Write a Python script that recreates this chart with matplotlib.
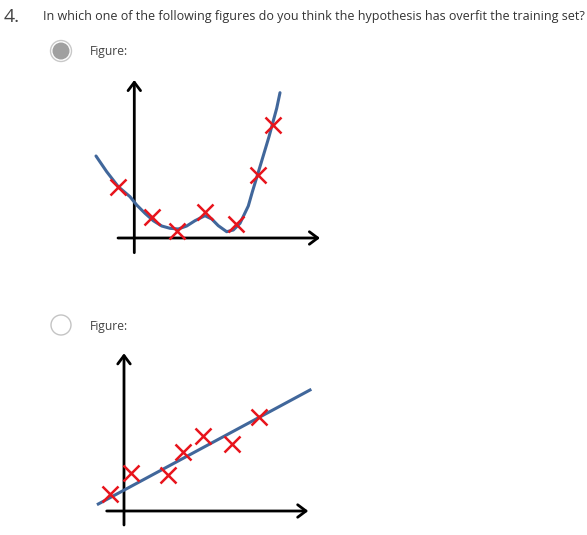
import matplotlib.pyplot as plt
from matplotlib.patches import Circle

W, H = 587, 535

# --- data (units ~ pixels, origin at axis crossing)
fig1_x = [-16, 17.4, 42.4, 70.7, 101.7, 123.4, 139]
fig1_y = [51, 21, 7, 26, 14, 63, 113]
curve_x = [-38.3, -27.6, -16, -4.3, 2.4, 10.7, 19, 27.4, 35.7, 44, 52.4,
           60.7, 70.7, 77.4, 84, 92.4, 99, 105.7, 114, 118, 126.7, 134.7,
           142.4, 145.7]
curve_y = [82, 66.3, 51.3, 41.3, 33, 24.7, 17.3, 12, 9.7, 9, 12,
           17.3, 22.3, 19, 12.3, 6.3, 8, 14.7, 32, 46, 74.7, 101.3,
           129.7, 145.3]

fig2_x = [-14, 6.7, 43.7, 58.7, 79.3, 107.7, 135.3]
fig2_y = [16.7, 38.3, 36, 59.3, 75, 67, 94.3]
line_x = [-25.7, 186]
line_y = [7, 121]

question = "In which one of the following figures do you think the hypothesis has overfit the training set?"
option_label = "Figure:"

FONT = ["Open Sans", "DejaVu Sans"]
RED = "#e8141c"
BLUE = "#41679b"

fig = plt.figure(figsize=(W / 100, H / 100), dpi=100)

# background axes in pixel coords for text and radio buttons
bg = fig.add_axes([0, 0, 1, 1])
bg.set_xlim(0, W)
bg.set_ylim(H, 0)
bg.axis("off")

bg.text(4, 22, "4.", fontsize=14, color="#444444", family=FONT, va="baseline")
bg.text(43, 20, question, fontsize=9, color="#333333", family=FONT, va="baseline")
bg.text(90, 55, option_label, fontsize=8.7, color="#444444", family=FONT, va="baseline")
bg.text(90, 330, option_label, fontsize=8.7, color="#444444", family=FONT, va="baseline")

bg.add_patch(Circle((61, 51), 10.5, facecolor="white", edgecolor="#c8c8c8", lw=1))
bg.add_patch(Circle((61, 51), 8.5, facecolor="#a0a0a0", edgecolor="none"))
bg.add_patch(Circle((61, 325), 10, facecolor="white", edgecolor="#c4c4c4", lw=1))


def draw_axes(ax, x0, x1, y0, y1):
    style = dict(arrowstyle="->,head_length=0.6,head_width=0.45",
                 lw=2, color="black", shrinkA=0, shrinkB=0)
    ax.annotate("", xy=(x1, 0), xytext=(x0, 0), arrowprops=style)
    ax.annotate("", xy=(0, y1), xytext=(0, y0), arrowprops=style)


# figure 1: overfit curve, origin at pixel (134.3, 238)
ax1 = fig.add_axes([80 / W, (H - 260) / H, 250 / W, 190 / H])
ax1.set_xlim(-54.3, 195.7)
ax1.set_ylim(-22, 168)
ax1.axis("off")
draw_axes(ax1, -16.3, 185.7, -14.7, 158)
ax1.plot(curve_x, curve_y, color=BLUE, lw=2.2, solid_joinstyle="round",
         solid_capstyle="round", zorder=3)
ax1.plot(fig1_x, fig1_y, "x", color=RED, ms=11, mew=1.8, zorder=4)

# figure 2: straight line fit, origin at pixel (124, 511)
ax2 = fig.add_axes([80 / W, 0, 250 / W, 195 / H])
ax2.set_xlim(-44, 206)
ax2.set_ylim(-24, 171)
ax2.axis("off")
draw_axes(ax2, -17.3, 184.3, -14, 157.7)
ax2.plot(line_x, line_y, color=BLUE, lw=2.2, zorder=3)
ax2.plot(fig2_x, fig2_y, "x", color=RED, ms=11, mew=1.8, zorder=4)

fig.savefig("out.png", dpi=100)
